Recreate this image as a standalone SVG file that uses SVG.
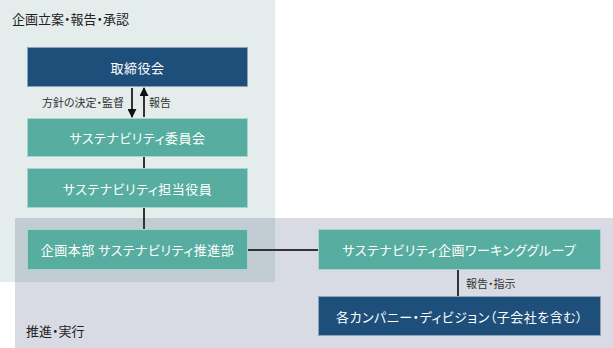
<svg xmlns="http://www.w3.org/2000/svg" width="613" height="348" viewBox="0 0 613 348">
<style>
text{font-family:"Noto Sans CJK JP","Noto Sans",sans-serif;font-feature-settings:"palt";}
.bt{fill:#ffffff;font-size:13px;letter-spacing:0.5px;text-anchor:middle;dominant-baseline:central;}
.lb{fill:#333333;font-size:11px;dominant-baseline:central;}
.hd{fill:#222222;font-size:13px;dominant-baseline:central;}
.teal{fill:#57ad9f;stroke:#a9d3cb;stroke-width:1;}
.navy{fill:#1e4f7b;stroke:#8aa3bb;stroke-width:1;}
.ln{stroke:#333333;stroke-width:2;fill:none;}
</style>
<defs>
<marker id="ah" viewBox="0 0 10 10" refX="9" refY="5" markerWidth="4.5" markerHeight="4.5" orient="auto" markerUnits="strokeWidth">
<path d="M0,0 L10,5 L0,10 Z" fill="#111111"/>
</marker>
</defs>
<g id="regions">
<rect x="0" y="0" width="275" height="282" fill="#e4edeb"/>
<rect x="15" y="218" width="598" height="130" fill="#d8dae4"/>
<rect x="15" y="218" width="260" height="64" fill="#c1ccd3"/>
<text class="hd" x="12" y="18">企画立案・報告・承認</text>
<text class="hd" x="26" y="330">推進・実行</text>
</g>
<g id="connectors">
<line class="ln" x1="132" y1="88" x2="132" y2="117" marker-end="url(#ah)"/>
<line class="ln" x1="144" y1="117" x2="144" y2="88" marker-end="url(#ah)"/>
<line class="ln" x1="144" y1="157" x2="144" y2="168"/>
<line class="ln" x1="144" y1="208" x2="144" y2="229"/>
<line class="ln" x1="248" y1="250" x2="318" y2="250"/>
<line class="ln" x1="458" y1="270" x2="458" y2="296"/>
<text class="lb" x="124" y="102" text-anchor="end">方針の決定・監督</text>
<text class="lb" x="149" y="102">報告</text>
<text class="lb" x="466" y="283">報告・指示</text>
</g>
<g id="n1"><rect class="navy" x="27.5" y="47.5" width="220" height="39"/><text class="bt" x="137.5" y="67">取締役会</text></g>
<g id="n2"><rect class="teal" x="27.5" y="118.5" width="220" height="38"/><text class="bt" x="137.5" y="137.5">サステナビリティ委員会</text></g>
<g id="n3"><rect class="teal" x="27.5" y="168.5" width="220" height="39"/><text class="bt" x="137.5" y="188">サステナビリティ担当役員</text></g>
<g id="n4"><rect class="teal" x="27.5" y="229.5" width="220" height="40"/><text class="bt" x="137.5" y="249.5">企画本部 サステナビリティ推進部</text></g>
<g id="n5"><rect class="teal" x="318.5" y="229.5" width="282" height="40"/><text class="bt" x="459.5" y="249.5">サステナビリティ企画ワーキンググループ</text></g>
<g id="n6"><rect class="navy" x="318.5" y="296.5" width="282" height="39"/><text class="bt" x="459.5" y="316">各カンパニー・ディビジョン（子会社を含む）</text></g>
</svg>
